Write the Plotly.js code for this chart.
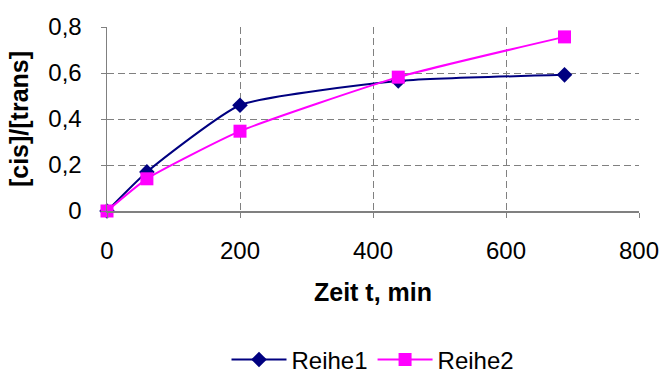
<!DOCTYPE html>
<html>
<head>
<meta charset="utf-8">
<script src="https://cdn.plot.ly/plotly-3.0.1.min.js"></script>
<style>
  html, body { margin: 0; padding: 0; background: #fff; }
  #chart { width: 662px; height: 373px; }
</style>
</head>
<body>
<div id="chart"></div>
<script>
// Zeit in Minuten
const zeit = [0, 60, 200, 438, 688];
// Verhältnis [cis]/[trans]
const reihe1 = [0, 0.17, 0.46, 0.565, 0.592];
const reihe2 = [0, 0.14, 0.347, 0.582, 0.757];
const seriesNames = ['Reihe1', 'Reihe2'];
const xTicks = [0, 200, 400, 600, 800];
const yTicks = [0, 0.2, 0.4, 0.6, 0.8];

const fontFamily = '"Liberation Sans", Arial, sans-serif';
const gridColor = '#808080';

const traces = [
  {
    x: zeit, y: reihe1, name: seriesNames[0],
    type: 'scatter', mode: 'lines+markers', cliponaxis: false,
    line: { color: '#000080', width: 2, shape: 'spline', smoothing: 0.5 },
    marker: { symbol: 'diamond', size: 12, color: '#000080' }
  },
  {
    x: zeit, y: reihe2, name: seriesNames[1],
    type: 'scatter', mode: 'lines+markers', cliponaxis: false,
    line: { color: '#FF00FF', width: 2, shape: 'spline', smoothing: 0.5 },
    marker: { symbol: 'square', size: 13, color: '#FF00FF' }
  }
];

const layout = {
  width: 662, height: 373,
  paper_bgcolor: '#ffffff', plot_bgcolor: '#ffffff',
  separators: ', ',
  font: { family: fontFamily, size: 24, color: '#000000' },
  margin: { l: 107, r: 23, t: 27, b: 162, autoexpand: false },
  showlegend: true,
  legend: {
    orientation: 'h', x: 0.5, xanchor: 'center',
    yref: 'container', y: 0.035, yanchor: 'middle',
    itemwidth: 55,
    font: { family: fontFamily, size: 24, color: '#000000' }, tracegroupgap: 0
  },
  xaxis: {
    range: [0, 800], tickvals: xTicks, ticktext: xTicks.map(String),
    showgrid: true, gridcolor: gridColor, griddash: '7px,4px', gridwidth: 1,
    showline: true, linecolor: gridColor, linewidth: 1.5,
    ticks: 'outside', ticklen: 5, tickcolor: gridColor, ticklabelstandoff: 13,
    zeroline: false, automargin: false,
    tickfont: { family: fontFamily, size: 24 },
    title: { text: 'Zeit t, min', font: { family: fontFamily, size: 25, weight: 'bold' }, standoff: 20 }
  },
  yaxis: {
    range: [0, 0.8], tickvals: yTicks, tickformat: '.1~f',
    showgrid: true, gridcolor: gridColor, griddash: '7px,4px', gridwidth: 1,
    showline: true, linecolor: gridColor, linewidth: 1.5,
    ticks: 'outside', ticklen: 5, tickcolor: gridColor, ticklabelstandoff: 14,
    zeroline: false, automargin: false,
    tickfont: { family: fontFamily, size: 24 },
    title: { text: '[cis]/[trans]', font: { family: fontFamily, size: 25, weight: 'bold' }, standoff: 12 }
  }
};

Plotly.newPlot('chart', traces, layout, { displayModeBar: false, staticPlot: true });
</script>
</body>
</html>
